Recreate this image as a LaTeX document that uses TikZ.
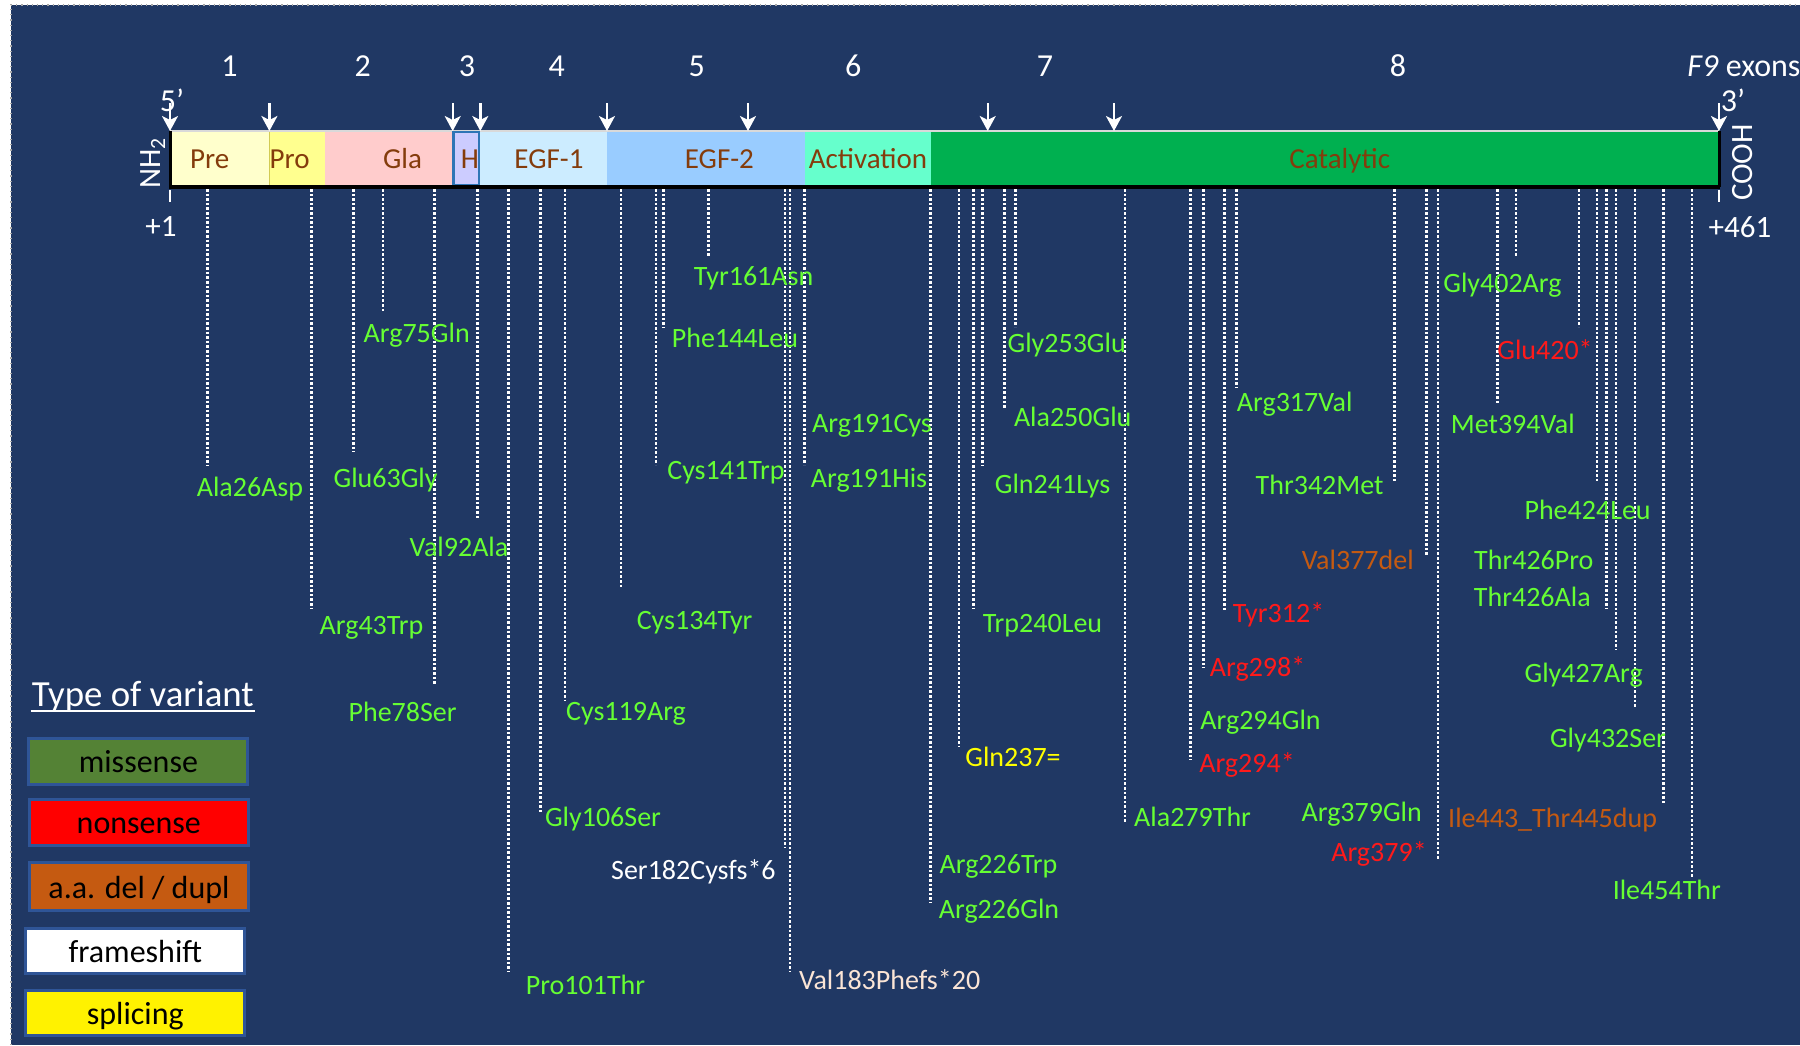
\documentclass[tikz,border=0pt]{standalone}
\usepackage{fontspec}
\setmainfont{Carlito}
\usetikzlibrary{arrows.meta}
\definecolor{navy}{HTML}{203864}
\definecolor{mg}{HTML}{66FF33}
\definecolor{mr}{HTML}{FF1A1A}
\definecolor{mo}{HTML}{C55A11}
\definecolor{my}{HTML}{FFFF00}
\definecolor{mw}{HTML}{FFFFFF}
\definecolor{mp}{HTML}{FBE5D6}
\definecolor{brn}{HTML}{843C0C}
\definecolor{preC}{HTML}{FFFFCC}
\definecolor{proC}{HTML}{FFFF8F}
\definecolor{glaC}{HTML}{FFCCCC}
\definecolor{hC}{HTML}{CCCCFF}
\definecolor{hB}{HTML}{2E75B6}
\definecolor{egfaC}{HTML}{CCECFF}
\definecolor{egfbC}{HTML}{99CCFF}
\definecolor{actC}{HTML}{66FFCC}
\definecolor{catC}{HTML}{00B050}
\definecolor{legborder}{HTML}{2F5597}
\definecolor{legmiss}{HTML}{548235}
\definecolor{legdel}{HTML}{C55A11}
\tikzset{
  mut/.style={anchor=base, yshift=-4.5pt, inner sep=0pt, font=\fontsize{14}{16}\selectfont},
  seglab/.style={anchor=base, yshift=-4.7pt, inner sep=0pt, text=brn, font=\fontsize{14.5}{17}\selectfont},
  exnum/.style={anchor=base, yshift=-5.2pt, inner sep=0pt, text=white, font=\fontsize{16}{18}\selectfont},
  endlab/.style={inner sep=0pt, text=white, font=\fontsize{15.5}{18}\selectfont},
  vline/.style={white, line width=1.25pt, dash pattern=on 1.25pt off 1.05pt},
  exarrow/.style={white, line width=1.2pt, -{Stealth[length=7.5pt,width=8pt,inset=2pt]}},
  legbox/.style={draw=legborder, line width=1.5pt, inner sep=0pt, text=black,
    minimum width=109.5pt, minimum height=23pt, text height=11.5pt, text depth=0pt,
    font=\fontsize{16}{18}\selectfont}
}
\begin{document}
\begin{tikzpicture}[x=0.5pt,y=-0.5pt]
\useasboundingbox (0,0) rectangle (1800,1045);
\fill[white] (0,0) rectangle (1800,1045);
\fill[navy] (11,5) rectangle (1800,1045);
\draw[gray!70, line width=0.6pt, dotted] (11,1045) -- (11,5) -- (1800,5);

% exon numbers
\foreach \i/\x in {1/229.6,2/362.8,3/467,4/556.8,5/696.8,6/853.3,7/1045,8/1397.9}
  \node[exnum] (ex\i) at (\x,65.7) {\i};
\node[exnum, anchor=base west] (exlab) at (1687,65.7) {\textit{F9} exons};

% protein bar segments
\fill[preC] (170,131) rectangle (269.4,186);
\fill[proC] (269.4,131) rectangle (325.3,186);
\fill[glaC] (325.3,131) rectangle (452.7,186);
\fill[egfaC] (479.5,131) rectangle (607,186);
\fill[egfbC] (607,131) rectangle (804.7,186);
\fill[actC] (804.7,131) rectangle (931,186);
\fill[catC] (931,131) rectangle (1719,186);
\draw[yellow!60!gray, line width=0.5pt] (269.4,131) -- (269.4,186);
\draw[white!70!gray, line width=0.6pt] (170,131) -- (1719,131);
\draw[fill=hC, draw=hB, line width=1.3pt] (453.5,132) rectangle (479,185);
\draw[black, line width=2pt] (169,186.5) -- (1720,186.5);
\draw[black, line width=1.5pt] (170,131) -- (170,187);
\draw[black, line width=1.5pt] (1719,131) -- (1719,187);
\draw[white, line width=1.2pt] (170,190) -- (170,202);
\draw[white, line width=1.2pt] (1719,190) -- (1719,202);

% segment labels
\node[seglab] (sPre) at (209.7,159) {Pre};
\node[seglab] (sPro) at (289.7,159) {Pro};
\node[seglab] (sGla) at (402.6,159) {Gla};
\node[seglab] (sH) at (470,159) {H};
\node[seglab] (sEa) at (549,159) {EGF-1};
\node[seglab] (sEb) at (719.4,159) {EGF-2};
\node[seglab] (sAct) at (868,159) {Activation};
\node[seglab] (sCat) at (1339.7,159) {Catalytic};

% exon boundary arrows
\foreach \i/\x in {1/170,2/269.4,3/452.7,4/480.3,5/607,6/748,7/987.7,8/1114,9/1719}{
  \coordinate (aT\i) at (\x,103);
  \coordinate (aB\i) at (\x,131);
  \draw[exarrow] (aT\i) -- (aB\i);
}
\node[endlab, font=\fontsize{16}{18}\selectfont] (p5) at (172,100) {5’};
\node[endlab, font=\fontsize{16}{18}\selectfont] (p3) at (1733,100) {3’};
\node[endlab, rotate=90] (nh2) at (153,163) {NH\textsubscript{2}};
\node[endlab, rotate=90] (cooh) at (1743,162.5) {COOH};
\node[endlab] (plus1) at (161,227) {+1};
\node[endlab] (plus461) at (1740,227) {+461};

% dotted connectors
\foreach \i/\x/\ye in {1/207.7/466,2/311.3/609,3/353.7/452,4/383/313,5/434.3/685,
  6/477.7/518,7/508.3/972,8/540.3/812,9/565/700,10/621/588,11/656/465,12/663.3/328,
  13/708.3/256,14/785/848,15/790/972,16/804.3/465,17/930.7/903,18/959/747,
  19/973.3/608,20/982.3/466,21/1004.7/409,22/1015.3/327,23/1125/822,24/1190.3/760,
  25/1203.7/668,26/1224.3/610,27/1236.3/387,28/1394.3/482,29/1426.6/555,30/1438/859,
  31/1497.7/403,32/1516.1/256,33/1578.9/327,34/1597.2/482,35/1606.4/608,36/1616/650,
  37/1635.1/707,38/1663.5/803,39/1691.8/878}{
  \coordinate (lt\i) at (\x,189);
  \coordinate (le\i) at (\x,\ye);
  \draw[vline] (lt\i) -- (le\i);
}

% variant labels
\foreach \n/\x/\y/\c/\t in {
  1/250/487/mg/Ala26Asp, 2/371.5/625/mg/Arg43Trp, 3/385.6/478/mg/Glu63Gly,
  4/416.7/333/mg/Arg75Gln, 5/402.6/712/mg/Phe78Ser, 6/459/547/mg/Val92Ala,
  7/585.5/985/mg/Pro101Thr, 8/603/817/mg/Gly106Ser, 9/626/711/mg/Cys119Arg,
  10/694.6/620/mg/Cys134Tyr, 11/726/470/mg/Cys141Trp, 12/735/338/mg/Phe144Leu,
  13/753.6/276/mg/Tyr161Asn, 14/693.4/870/mw/Ser182Cysfs*6, 15/889.7/980/mp/Val183Phefs*20,
  16/872/423/mg/Arg191Cys, 17/869/478/mg/Arg191His, 18/998.5/864/mg/Arg226Trp,
  19/999/909/mg/Arg226Gln, 20/1013/757/my/Gln237=, 21/1042.5/623/mg/Trp240Leu,
  22/1052.6/484/mg/Gln241Lys, 23/1072.7/417/mg/Ala250Glu, 24/1066.7/343/mg/Gly253Glu,
  25/1192.6/817/mg/Ala279Thr, 26/1260.5/720/mg/Arg294Gln, 27/1247/763/mr/Arg294*,
  28/1257.6/667/mr/Arg298*, 29/1278.5/613/mr/Tyr312*, 30/1294.7/402/mg/Arg317Val,
  31/1319.6/485/mg/Thr342Met, 32/1357.8/560/mo/Val377del, 33/1361.7/812/mg/Arg379Gln,
  34/1379/852/mr/Arg379*, 35/1512.8/424/mg/Met394Val, 36/1502.4/283/mg/Gly402Arg,
  37/1545/350/mr/Glu420*, 38/1587.6/510/mg/Phe424Leu, 39/1533.8/560/mg/Thr426Pro,
  40/1532.3/597/mg/Thr426Ala, 41/1583.7/673/mg/Gly427Arg, 42/1608/738/mg/Gly432Ser,
  43/1552.6/818/mo/Ile443\_Thr445dup, 44/1666.8/890/mg/Ile454Thr}
  \node[mut, text=\c] (m\n) at (\x,\y) {\t};

% legend
\node[anchor=base, inner sep=0pt, text=white, font=\fontsize{18.4}{21}\selectfont] (legtitle) at (142.8,706.7) {Type of variant};
\coordinate (ulA) at (30.6,711);
\coordinate (ulB) at (255,711);
\draw[white, line width=1pt] (ulA) -- (ulB);
\node[legbox, fill=legmiss] (lmiss) at (138.4,761) {missense};
\node[legbox, fill=red] (lnon) at (138.8,822) {nonsense};
\node[legbox, fill=legdel, minimum height=24pt] (ldel) at (139,886.7) {a.a. del / dupl};
\node[legbox, fill=white, minimum height=22.3pt] (lfs) at (135.3,951) {frameshift};
\node[legbox, fill=yellow, minimum height=22.5pt] (lspl) at (135.3,1012.5) {splicing};
\end{tikzpicture}
\end{document}
